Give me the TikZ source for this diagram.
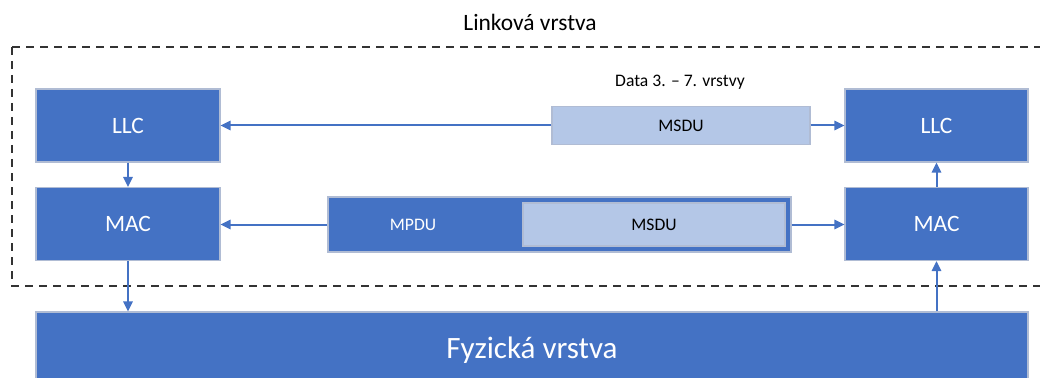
\documentclass[tikz,border=0pt]{standalone}
\usepackage{fontspec}
\setmainfont{Carlito}
\usetikzlibrary{arrows.meta}

\definecolor{ofblue}{RGB}{68,114,196}
\definecolor{oflight}{RGB}{180,199,231}
\definecolor{ofedge}{RGB}{176,188,212}

\tikzset{every picture/.style={line width=0.75pt}}
\tikzset{
  layerbox/.style={draw=ofedge, line width=0.9pt, fill=ofblue, text=white, inner sep=0pt,
    font=\fontsize{17.6}{20}\selectfont},
  databox/.style={draw=ofedge, line width=0.9pt, fill=oflight, text=black, inner sep=0pt,
    font=\fontsize{13.2}{15}\selectfont},
  flow/.style={draw=ofblue, line width=1.5pt, -{Triangle[length=7.5pt,width=7pt]}}
}

\begin{document}
\begin{tikzpicture}[x=0.75pt,y=0.75pt,yscale=-1,xscale=1]
\useasboundingbox (0,0) rectangle (1040,378);

% Linkova vrstva frame
\draw [color={rgb,255:red,51;green,51;blue,51}, line width=1.3pt, dash pattern=on 6pt off 4.5pt]
  (12,47) -- (1050,47) (12,47) -- (12,286) -- (1050,286) ;
\node (ttl) at (530,22) [inner sep=0.75pt, font=\fontsize{17.6}{20}\selectfont] {Linková vrstva};

% left side
\node (llcl) at (128,125.5) [layerbox, minimum width=138pt, minimum height=54.75pt] {LLC};
\node (macl) at (128,224) [layerbox, minimum width=138pt, minimum height=54.75pt] {MAC};

% right side
\node (llcr) at (936.5,125.5) [layerbox, minimum width=137.25pt, minimum height=54.75pt] {LLC};
\node (macr) at (936.5,224) [layerbox, minimum width=137.25pt, minimum height=54.75pt] {MAC};

% data units
\node (msdutop) at (681,125.5) [databox, minimum width=193.5pt, minimum height=28.5pt] {MSDU};
\node (datalbl) at (680,82) [inner sep=0.75pt, font=\fontsize{13.2}{15}\selectfont] {Data 3. – 7. vrstvy};
\node (mpdu) at (559.5,224.5) [layerbox, minimum width=347.25pt, minimum height=41.25pt] {};
\node (msdubot) at (654,224.5) [databox, minimum width=196.5pt, minimum height=32.25pt] {MSDU};
\node (mpdulbl) at (413,224.5) [inner sep=0.75pt, text=white, font=\fontsize{13.2}{15}\selectfont] {MPDU};

% physical layer
\node (fyz) at (532,350) [layerbox, minimum width=744pt, minimum height=57pt,
  font=\fontsize{23.3}{26}\selectfont] {Fyzická vrstva};

% arrows
\draw [flow] (msdutop.west) -- (llcl.east);
\draw [flow] (msdutop.east) -- (llcr.west);
\draw [flow] (mpdu.west) -- (mpdu.west -| macl.east);
\draw [flow] (mpdu.east) -- (mpdu.east -| macr.west);
\draw [flow] (llcl.south) -- (macl.north);
\draw [flow] (macr.north) -- (llcr.south);
\draw [flow] (macl.south) -- (macl.south |- fyz.north);
\draw [flow] (fyz.north -| macr.south) -- (macr.south);

\end{tikzpicture}
\end{document}
